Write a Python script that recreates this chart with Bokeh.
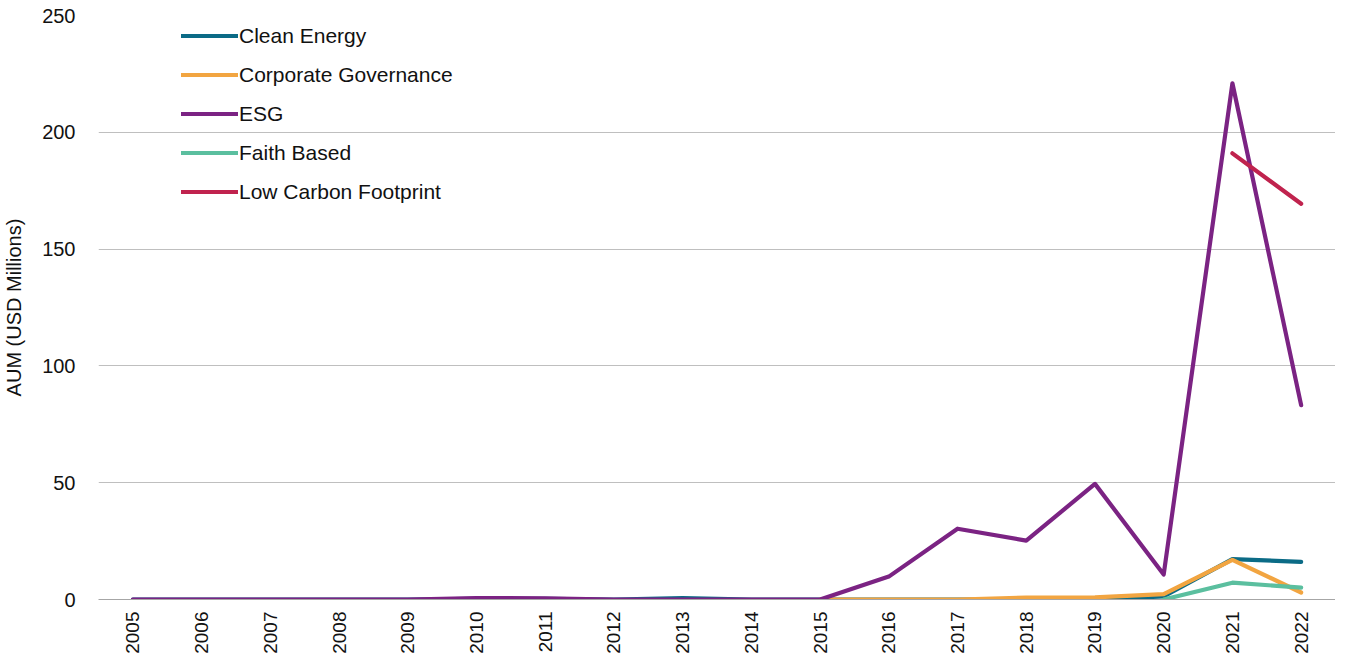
from bokeh.plotting import figure
from bokeh.models import Range1d, FactorRange, Legend, LegendItem, SingleIntervalTicker
from bokeh.embed import file_html
from bokeh.resources import INLINE
import math

years = [str(y) for y in range(2005, 2023)]
clean_energy = [0, 0, 0, 0, 0, 0.3, 0.3, 0, 0.6, 0, 0, 0, 0, 0, 0, 1.3, 17.3, 16.1]
corp_years = [str(y) for y in range(2015, 2023)]
corp_gov = [0, 0, 0, 0.8, 0.9, 2.3, 17.0, 3.0]
esg = [0, 0, 0, 0, 0, 0.6, 0.5, 0, 0, 0, 0, 9.8, 30.3, 25.2, 49.5, 10.7, 221.0, 83.2]
faith_years = ["2020", "2021", "2022"]
faith = [0, 7.2, 5.1]
lowc_years = ["2021", "2022"]
low_carbon = [191.0, 169.4]

FONT = "Liberation Sans"

p = figure(width=1335, height=656, output_backend="svg", toolbar_location=None,
           x_range=FactorRange(factors=years, range_padding=0),
           y_range=Range1d(0, 250),
           min_border_left=92, min_border_right=0, min_border_top=15, min_border_bottom=10)
p.outline_line_color = None
p.background_fill_color = "white"

series = [
    ("Clean Energy", years, clean_energy, "#0b6b86"),
    ("Corporate Governance", corp_years, corp_gov, "#f2a541"),
    ("ESG", years, esg, "#7b2383"),
    ("Faith Based", faith_years, faith, "#5bbf9f"),
    ("Low Carbon Footprint", lowc_years, low_carbon, "#c0234e"),
]
items = []
for name, xs, ys, col in series:
    r = p.line(xs, ys, line_color=col, line_width=4.2, line_cap="round", line_join="round")
    items.append(LegendItem(label=name, renderers=[r]))

leg = Legend(items=items, location=(83, 395), padding=0, margin=0,
             border_line_color=None, background_fill_alpha=0,
             glyph_width=57, glyph_height=25, label_height=25, spacing=14,
             label_standoff=1, label_text_font=FONT, label_text_font_size="21px",
             label_text_color="#111111")
p.add_layout(leg)

p.xgrid.grid_line_color = None
p.ygrid.grid_line_color = "#bfbfbf"
p.ygrid.grid_line_width = 1
p.yaxis.ticker = SingleIntervalTicker(interval=50)
p.yaxis.axis_line_color = None
p.yaxis.major_tick_line_color = None
p.yaxis.minor_tick_line_color = None
p.yaxis.major_tick_out = 0
p.yaxis.major_tick_in = 0
p.yaxis.major_label_standoff = 19
p.yaxis.major_label_text_font = FONT
p.yaxis.major_label_text_font_size = "20px"
p.yaxis.major_label_text_color = "#111111"
p.yaxis.axis_label = "AUM (USD Millions)"
p.yaxis.axis_label_text_font = FONT
p.yaxis.axis_label_text_font_size = "20px"
p.yaxis.axis_label_text_font_style = "normal"
p.yaxis.axis_label_text_color = "#111111"
p.yaxis.axis_label_standoff = 14

p.xaxis.axis_line_color = "#a6a6a6"
p.xaxis.axis_line_width = 1
p.xaxis.major_tick_line_color = None
p.xaxis.minor_tick_line_color = None
p.xaxis.major_tick_out = 0
p.xaxis.major_tick_in = 0
p.xaxis.major_label_orientation = math.pi / 2
p.xaxis.major_label_standoff = 12
p.xaxis.major_label_text_font = FONT
p.xaxis.major_label_text_font_size = "19px"
p.xaxis.major_label_text_color = "#111111"

open("out.html", "w").write(file_html(p, INLINE))
